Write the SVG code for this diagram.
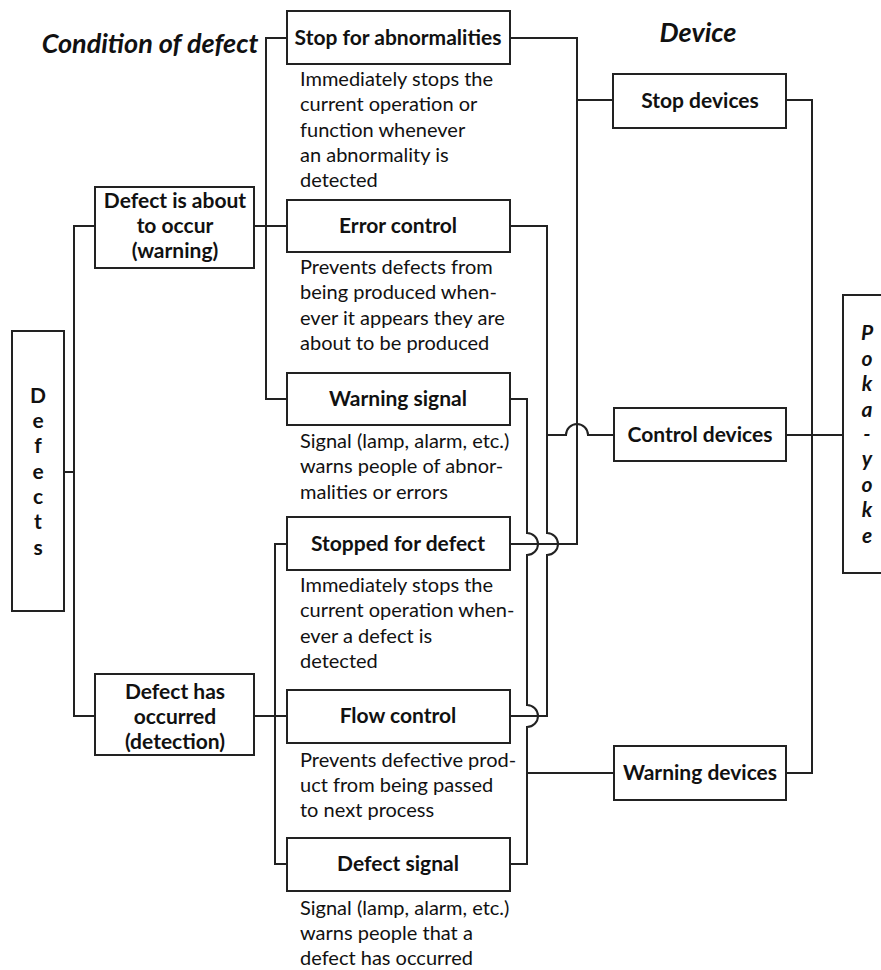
<svg xmlns="http://www.w3.org/2000/svg" width="881" height="970" viewBox="0 0 881 970">
  <style>
    .box { fill: #fff; stroke: #222; stroke-width: 2; }
    .wire { fill: none; stroke: #222; stroke-width: 2; }
    .lbl { font-family: Lato, "Open Sans", sans-serif; font-weight: bold; font-size: 21px; fill: #111; text-anchor: middle; }
    .desc { font-family: Lato, "Open Sans", sans-serif; font-size: 20px; fill: #111; }
    .head { font-family: Lato, "Open Sans", sans-serif; font-weight: bold; font-style: italic; font-size: 27px; fill: #111; text-anchor: middle; }
    .vert { font-family: Lato, "Open Sans", sans-serif; font-weight: bold; font-size: 21px; fill: #111; text-anchor: middle; }
  </style>
  <rect width="881" height="970" fill="#fff"/>

  <!-- column headings -->
  <text class="head" x="150" y="53">Condition of defect</text>
  <text class="head" x="698" y="42">Device</text>

  <!-- connectors -->
  <g id="connectors">
    <!-- Defects to the two conditions -->
    <path class="wire" d="M64 472 H74 M95 226 H74 V716 H95"/>
    <!-- warning branch -->
    <path class="wire" d="M254 226 H287 M287 38 H266 V399 H287"/>
    <!-- detection branch -->
    <path class="wire" d="M254 716 H287 M287 544 H275 V864 H287"/>
    <!-- stop devices bus -->
    <path class="wire" d="M510 38 H577 V544 H510 M577 100 H613"/>
    <!-- control devices bus -->
    <path class="wire" d="M510 226 H547 V533 A11 11 0 0 1 547 555 V716 H510"/>
    <path class="wire" d="M547 435 H566 A11 11 0 0 1 588 435 H614"/>
    <!-- warning devices bus -->
    <path class="wire" d="M510 399 H527 V533 A11 11 0 0 1 527 555 V705 A11 11 0 0 1 527 727 V864 H510 M527 773 H614"/>
    <!-- devices to poka-yoke -->
    <path class="wire" d="M786 100 H812 V773 H786 M786 435 H843"/>
  </g>

  <g id="defects">
    <rect class="box" x="12" y="331" width="52" height="280"/>
    <text class="vert" x="38" y="403">D</text>
    <text class="vert" x="38" y="428">e</text>
    <text class="vert" x="38" y="453">f</text>
    <text class="vert" x="38" y="479">e</text>
    <text class="vert" x="38" y="504">c</text>
    <text class="vert" x="38" y="529">t</text>
    <text class="vert" x="38" y="555">s</text>
  </g>

  <g id="about-to-occur">
    <rect class="box" x="95" y="187" width="159" height="81"/>
    <text class="lbl" x="175" y="208">Defect is about</text>
    <text class="lbl" x="175" y="233">to occur</text>
    <text class="lbl" x="175" y="258">(warning)</text>
  </g>

  <g id="has-occurred">
    <rect class="box" x="95" y="674" width="159" height="81"/>
    <text class="lbl" x="175" y="699">Defect has</text>
    <text class="lbl" x="175" y="724">occurred</text>
    <text class="lbl" x="175" y="749">(detection)</text>
  </g>

  <g id="stop-abnormalities">
    <rect class="box" x="287" y="11" width="223" height="53"/>
    <text class="lbl" x="398" y="45">Stop for abnormalities</text>
    <text class="desc" x="300" y="86">Immediately stops the</text>
    <text class="desc" x="300" y="111">current operation or</text>
    <text class="desc" x="300" y="137">function whenever</text>
    <text class="desc" x="300" y="162">an abnormality is</text>
    <text class="desc" x="300" y="187">detected</text>
  </g>

  <g id="error-control">
    <rect class="box" x="287" y="200" width="223" height="52"/>
    <text class="lbl" x="398" y="233">Error control</text>
    <text class="desc" x="300" y="274">Prevents defects from</text>
    <text class="desc" x="300" y="299">being produced when-</text>
    <text class="desc" x="300" y="325">ever it appears they are</text>
    <text class="desc" x="300" y="350">about to be produced</text>
  </g>

  <g id="warning-signal">
    <rect class="box" x="287" y="373" width="223" height="52"/>
    <text class="lbl" x="398" y="406">Warning signal</text>
    <text class="desc" x="300" y="448">Signal (lamp, alarm, etc.)</text>
    <text class="desc" x="300" y="473">warns people of abnor-</text>
    <text class="desc" x="300" y="499">malities or errors</text>
  </g>

  <g id="stopped-defect">
    <rect class="box" x="287" y="517" width="223" height="53"/>
    <text class="lbl" x="398" y="551">Stopped for defect</text>
    <text class="desc" x="300" y="592">Immediately stops the</text>
    <text class="desc" x="300" y="617">current operation when-</text>
    <text class="desc" x="300" y="643">ever a defect is</text>
    <text class="desc" x="300" y="668">detected</text>
  </g>

  <g id="flow-control">
    <rect class="box" x="287" y="690" width="223" height="53"/>
    <text class="lbl" x="398" y="723">Flow control</text>
    <text class="desc" x="300" y="767">Prevents defective prod-</text>
    <text class="desc" x="300" y="792">uct from being passed</text>
    <text class="desc" x="300" y="817">to next process</text>
  </g>

  <g id="defect-signal">
    <rect class="box" x="287" y="838" width="223" height="53"/>
    <text class="lbl" x="398" y="871">Defect signal</text>
    <text class="desc" x="300" y="915">Signal (lamp, alarm, etc.)</text>
    <text class="desc" x="300" y="940">warns people that a</text>
    <text class="desc" x="300" y="965">defect has occurred</text>
  </g>

  <g id="stop-devices">
    <rect class="box" x="613" y="74" width="173" height="54"/>
    <text class="lbl" x="700" y="108">Stop devices</text>
  </g>

  <g id="control-devices">
    <rect class="box" x="614" y="408" width="172" height="53"/>
    <text class="lbl" x="700" y="442">Control devices</text>
  </g>

  <g id="warning-devices">
    <rect class="box" x="614" y="746" width="172" height="54"/>
    <text class="lbl" x="700" y="780">Warning devices</text>
  </g>

  <g id="poka-yoke">
    <rect class="box" x="843" y="295" width="60" height="278"/>
    <g font-style="italic">
      <text class="vert" x="867" y="340">P</text>
      <text class="vert" x="867" y="366">o</text>
      <text class="vert" x="867" y="391">k</text>
      <text class="vert" x="867" y="417">a</text>
      <text class="vert" x="867" y="441">-</text>
      <text class="vert" x="867" y="466">y</text>
      <text class="vert" x="867" y="492">o</text>
      <text class="vert" x="867" y="517">k</text>
      <text class="vert" x="867" y="543">e</text>
    </g>
  </g>
</svg>
